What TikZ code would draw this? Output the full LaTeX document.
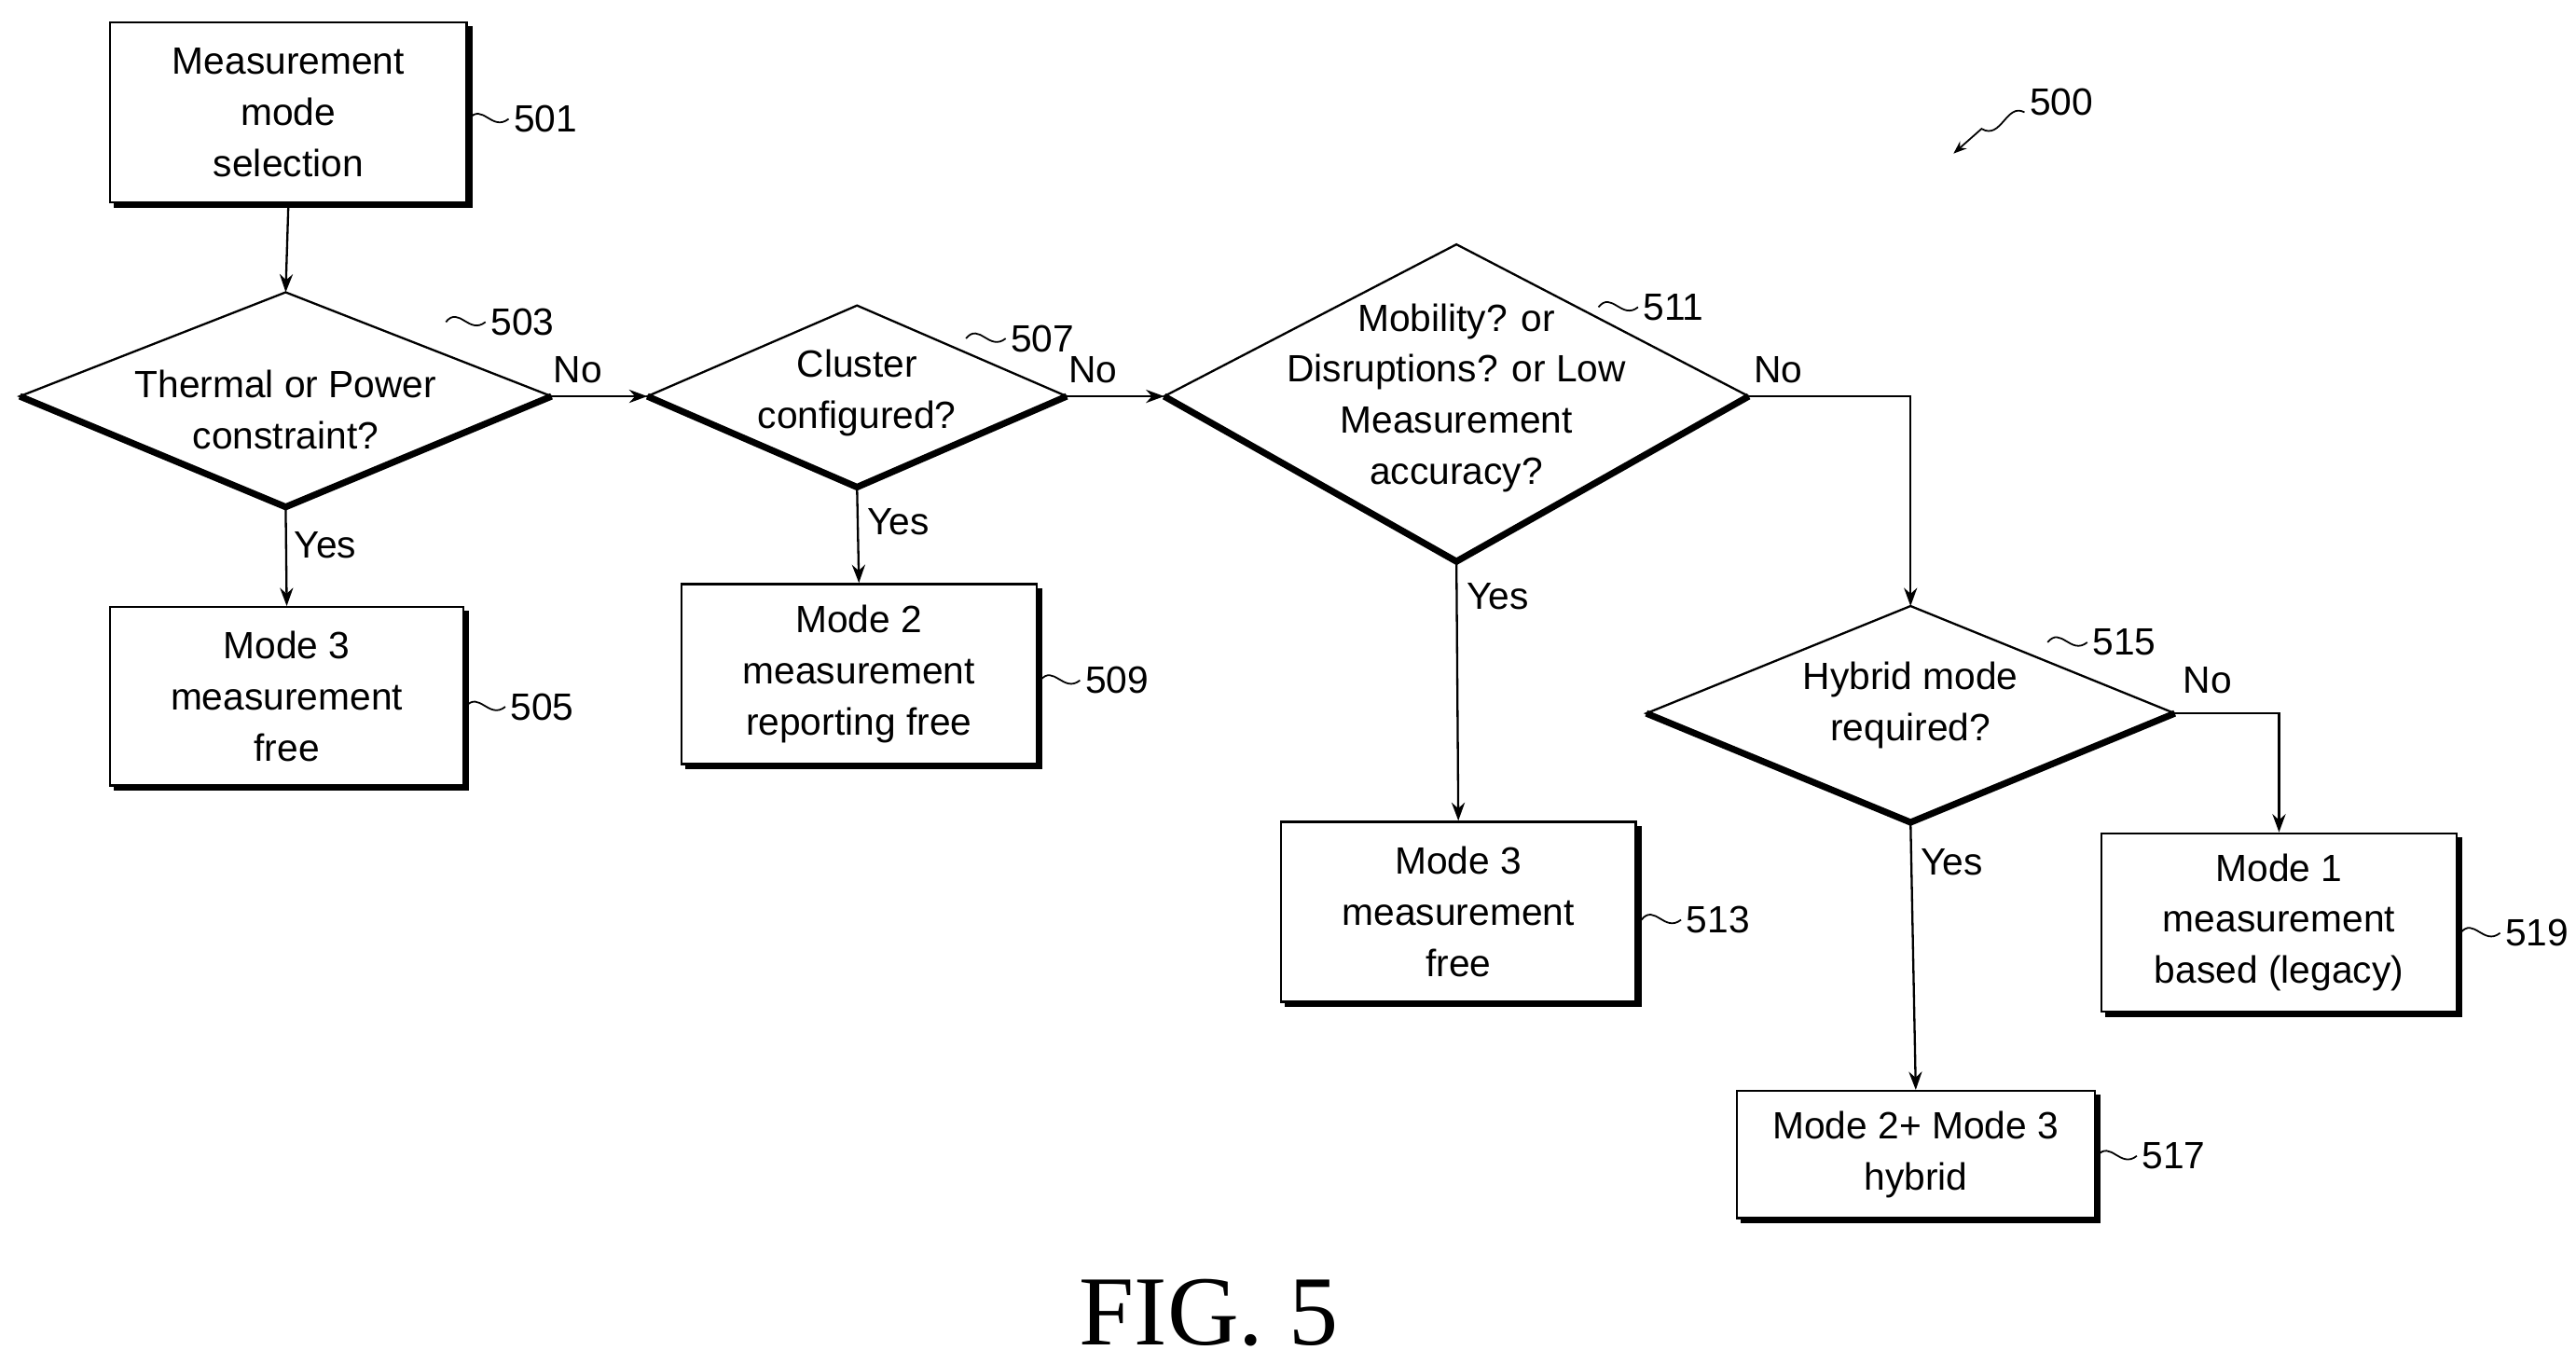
\documentclass[tikz,border=0pt]{standalone}
\usepackage{fontspec}
\setmainfont{Liberation Sans}
\newfontfamily\serifr{Liberation Serif}
\usetikzlibrary{arrows.meta}
\begin{document}
\begin{tikzpicture}[x=1pt,y=-1pt,
  txt/.style={font=\fontsize{23}{31}\selectfont, align=center, inner sep=0},
  lab/.style={font=\fontsize{23}{28}\selectfont, inner sep=0, anchor=west},
  line/.style={line width=1.3pt},
  arr/.style={line width=1.3pt,-{Stealth[length=11pt,width=8pt]}},
  shd/.style={line width=4pt}]
\useasboundingbox (0,0) rectangle (1560,826);
% boxes: \bx{name}{x1}{y1}{x2}{y2}{text}
\newcommand\bx[6]{%
  \draw[shd] (#2+3,#5+2) -- (#4+2,#5+2) -- (#4+2,#3+3);
  \node[draw,line width=1.3pt,minimum width=#4-#2,minimum height=#5-#3,anchor=north west,inner sep=0] (#1) at (#2,#3) {};
  \node[txt] at (#1.center) {#6};}
\newcommand\dm[6]{% name, cx, cy, halfw, top, bottom
  \coordinate (#1-l) at (#2-#4,#3); \coordinate (#1-r) at (#2+#4,#3);
  \coordinate (#1-t) at (#2,#5); \coordinate (#1-b) at (#2,#6);
  \draw[shd] (#1-l) -- (#1-b) -- (#1-r);
  \draw[line] (#1-l) -- (#1-t) -- (#1-r) -- (#1-b) -- cycle;}
\newcommand\sq[3]{% from (x,y) squiggle to label
  \draw[line width=1pt] (#1,#2) .. controls (#1+8,#2-10) and (#1+14,#2+8) .. (#1+24,#2);
  \node[lab] at (#1+27,#2) {#3};}
\bx{b501}{66}{13}{282}{122}{Measurement\\mode\\selection}
\bx{b505}{66}{367}{280}{475}{Mode 3\\measurement\\free}
\bx{b509}{412}{353}{627}{462}{Mode 2\\measurement\\reporting free}
\bx{b513}{775}{497}{990}{606}{Mode 3\\measurement\\free}
\bx{b519}{1272}{504}{1487}{612}{Mode 1\\measurement\\based (legacy)}
\bx{b517}{1051}{660}{1268}{737}{Mode 2+ Mode 3\\hybrid}
\dm{d503}{173}{240}{161}{177}{307}
\node[txt] (t503) at (173,248) {Thermal or Power\\constraint?};
\dm{d507}{519}{240}{127}{185}{295}
\node[txt] (t507) at (519,238) {Cluster\\configured?};
\dm{d511}{882}{240}{177}{148}{340}
\node[txt] (t511) at (882,241) {Mobility? or\\Disruptions? or Low\\Measurement\\accuracy?};
\dm{d515}{1157}{432}{160}{367}{498}
\node[txt] (t515) at (1157,427) {Hybrid mode\\required?};
% connectors
\draw[arr] (b501.south) -- (d503-t);
\draw[arr] (d503-r) -- (d507-l);
\draw[arr] (d503-b) -- (b505.north);
\draw[arr] (d507-r) -- (d511-l);
\draw[arr] (d507-b) -- (b509.north);
\draw[arr] (d511-b) -- (b513.north);
\draw[arr] (d511-r) -| (d515-t);
\draw[arr] (d515-b) -- (b517.north);
\draw[arr] (d515-r) -| (b519.north);
% yes/no
\node[lab] (n1) at (335,224) {No};
\node[lab] (y1) at (178,330) {Yes};
\node[lab] (n2) at (647,224) {No};
\node[lab] (y2) at (525,316) {Yes};
\node[lab] (n3) at (1062,224) {No};
\node[lab] (y3) at (888,361) {Yes};
\node[lab] (n4) at (1322,412) {No};
\node[lab] (y4) at (1163,522) {Yes};
% reference numbers
\sq{284}{72}{501}
\sq{270}{195}{503}
\sq{585}{205}{507}
\sq{282}{428}{505}
\sq{630}{412}{509}
\sq{968}{186}{511}
\sq{994}{557}{513}
\sq{1240}{389}{515}
\sq{1490}{565}{519}
\sq{1270}{700}{517}
\node[lab] (l500) at (1229,62) {500};
\draw[line width=1pt,-{Stealth[length=8pt,width=6pt]}] (1226,68) .. controls (1215,62) and (1212,85) .. (1200,78) -- (1183,93);
\node[font=\serifr\fontsize{60}{60}\selectfont,inner sep=0] (fig) at (732,795) {FIG. 5};
\end{tikzpicture}
\end{document}
